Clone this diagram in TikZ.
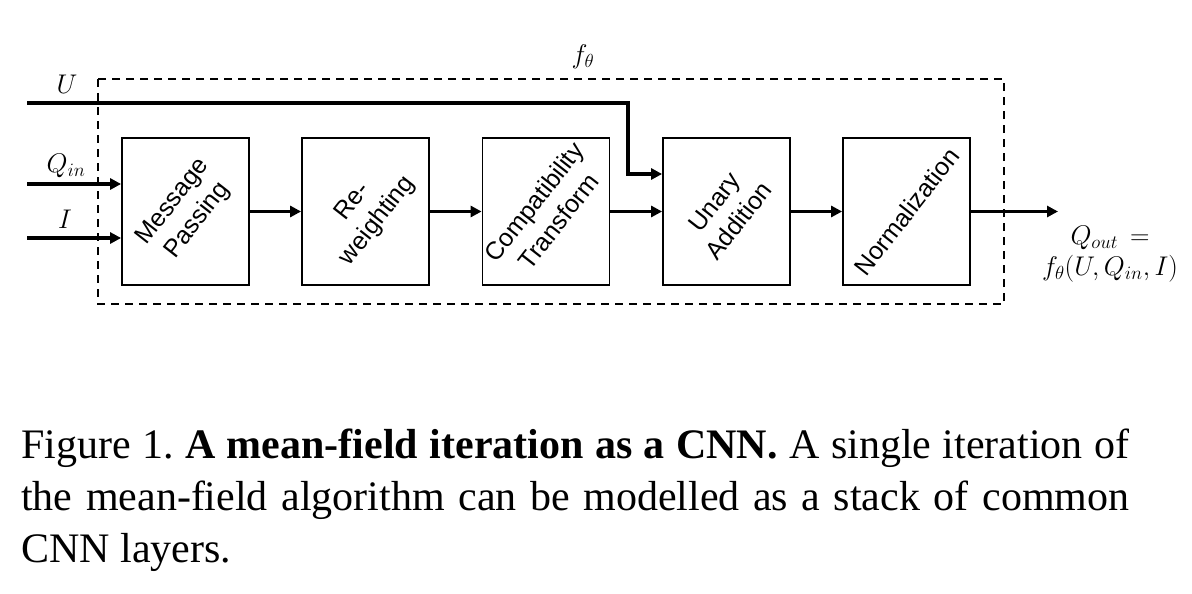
\RequirePackage{fix-cm}
\documentclass[tikz,border=0pt]{standalone}
\usepackage{fontspec}
\setmainfont{Liberation Serif}
\setsansfont{Liberation Sans}
\usetikzlibrary{arrows.meta}

\begin{document}
\begin{tikzpicture}[x=1pt,y=-1pt,
    layer/.style={draw, line width=1.8pt, minimum width=127pt, minimum height=147pt, inner sep=0pt},
    layertext/.style={rotate=52, align=center, font=\fontsize{25}{31}\selectfont\sffamily},
    flow/.style={line width=3.6pt, -{Triangle[length=11pt,width=11pt]}},
    sym/.style={font=\fontsize{27}{28}\selectfont}]
  \useasboundingbox (0,0) rectangle (1192,594);

  % dashed frame of f_theta
  \draw [dashed, line width=1.8pt, dash pattern=on 8pt off 6pt] (98,79) rectangle (1004,304);
  \node [sym] (ftheta) at (583,57) {$f_\theta$};

  % the five layers
  \node [layer] (mp) at (185.5,211.5) {};
  \node [layer] (rw) at (365.5,211.5) {};
  \node [layer] (ct) at (546,211.5) {};
  \node [layer] (ua) at (726.5,211.5) {};
  \node [layer] (nm) at (906.5,211.5) {};

  \node [layertext] (mp-t) at (mp) {Message\\Passing};
  \node [layertext] (rw-t) at (rw) {Re-\\weighting};
  \node [layertext] (ct-t) at (ct) {Compatibility\\Transform};
  \node [layertext] (ua-t) at (ua) {Unary\\Addition};
  \node [layertext] (nm-t) at (nm) {Normalization};

  % inputs
  \coordinate (u-in) at (27,103);
  \coordinate (q-in) at (27,184);
  \coordinate (i-in) at (27,238);
  \node [sym] (u-l) at (67,84) {$U$};
  \node [sym] (q-l) at (66,166) {$Q_{in}$};
  \node [sym] (i-l) at (65,219) {$I$};

  \draw [flow] (q-in) -- (q-in -| mp.west);
  \draw [flow] (i-in) -- (i-in -| mp.west);
  \draw [flow] (u-in) -- (628,103) -- (628,174) -- (ua.west |- 0,174);

  % chain
  \draw [flow] (mp.east) -- (rw.west);
  \draw [flow] (rw.east) -- (ct.west);
  \draw [flow] (ct.east) -- (ua.west);
  \draw [flow] (ua.east) -- (nm.west);

  % output
  \coordinate (q-out) at (1058,211.5);
  \draw [flow] (nm.east) -- (q-out);
  \node [sym, align=center] (q-l2) at (1110,254) {$Q_{out}\,=$\\[3pt]$f_\theta(U,Q_{in},I)$};

  % caption
  \frenchspacing
  \node [anchor=base west, inner sep=0pt, font=\fontsize{42}{51.5}\selectfont] (cap1) at (21,458)
    {\makebox[1108pt][s]{Figure 1. \textbf{A mean-field iteration as a CNN.} A single iteration of}};
  \node [anchor=base west, inner sep=0pt, font=\fontsize{42}{51.5}\selectfont] (cap2) at (21,510)
    {\makebox[1108pt][s]{the mean-field algorithm can be modelled as a stack of common}};
  \node [anchor=base west, inner sep=0pt, font=\fontsize{42}{51.5}\selectfont] (cap3) at (21,562)
    {CNN layers.};
\end{tikzpicture}
\end{document}
